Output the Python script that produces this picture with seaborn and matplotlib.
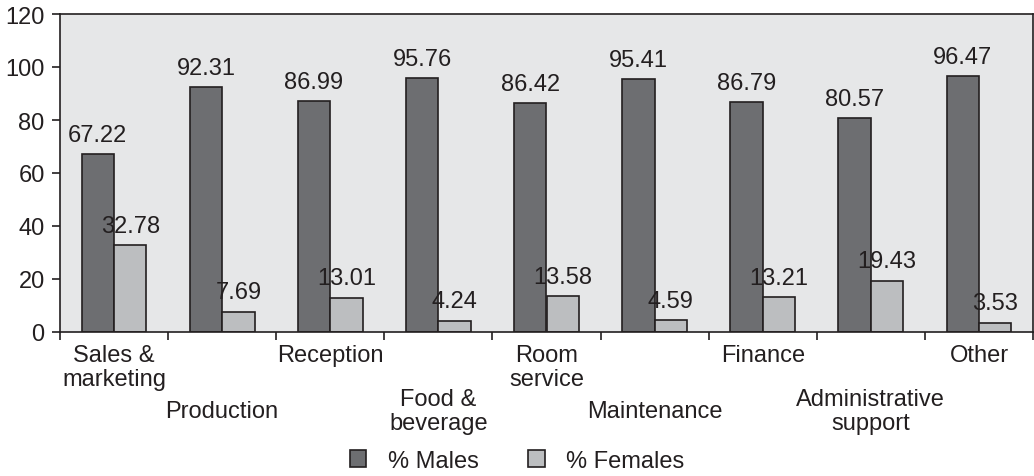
import pandas as pd
import seaborn as sns
import matplotlib.pyplot as plt
from matplotlib.patches import Patch

# Data
departments = ["Sales &\nmarketing", "Production", "Reception", "Food &\nbeverage",
               "Room\nservice", "Maintenance", "Finance", "Administrative\nsupport", "Other"]
males = [67.22, 92.31, 86.99, 95.76, 86.42, 95.41, 86.79, 80.57, 96.47]
females = [32.78, 7.69, 13.01, 4.24, 13.58, 4.59, 13.21, 19.43, 3.53]
series = ["% Males", "% Females"]

df = pd.DataFrame({
    "Department": departments * 2,
    "Percent": males + females,
    "Series": [series[0]] * len(males) + [series[1]] * len(females),
})

ink = "#231f20"
colors = {"% Males": "#6d6e71", "% Females": "#bcbec0"}
fs = 17

sns.set_style("ticks")
plt.rcParams["font.family"] = ["Liberation Sans", "DejaVu Sans"]
plt.rcParams["font.size"] = fs

fig = plt.figure(figsize=(10.34, 4.77), dpi=100)
ax = fig.add_axes([60 / 1034, 1 - 333 / 477, 973 / 1034, 318 / 477])
ax.set_facecolor("#e6e7e8")

sns.barplot(data=df, x="Department", y="Percent", hue="Series", palette=colors,
            width=0.6, edgecolor=ink, linewidth=1.2, saturation=1, ax=ax, legend=False)

for cont in ax.containers:
    ax.bar_label(cont, fmt="%.2f", padding=6, color=ink, fontsize=fs)

ax.set_ylim(0, 120)
ax.set_yticks(range(0, 121, 20))
ax.set_xlim(-0.5, len(departments) - 0.5)
ax.set_xticks([i - 0.5 for i in range(len(departments) + 1)])
ax.set_xticklabels([])
ax.set_xlabel("")
ax.set_ylabel("")
ax.tick_params(axis="both", colors=ink, labelcolor=ink, length=6, width=1.2,
               labelsize=fs, pad=5)
for s in ax.spines.values():
    s.set_color(ink)
    s.set_linewidth(1.2)

# staggered category labels: even ones top-aligned under the axis, odd ones centred lower
for i, name in enumerate(departments):
    if i % 2 == 0:
        off, va = -9, "top"
    else:
        off, va = -57, "center"
    ax.annotate(name, xy=(i, 0), xycoords=("data", "axes fraction"),
                xytext=(0, off), textcoords="offset points",
                ha="center", va=va, color=ink, fontsize=fs, linespacing=1.1)

handles = [Patch(facecolor=colors[s], edgecolor=ink, linewidth=1.2, label=s) for s in series]
fig.legend(handles=handles, loc="center", bbox_to_anchor=(0.5, 1 - 462 / 477), ncol=2,
           frameon=False, handlelength=0.7, handleheight=0.7, columnspacing=2.1,
           handletextpad=0.9, fontsize=fs, labelcolor=ink, borderpad=0)

fig.savefig("out.png", dpi=100)
